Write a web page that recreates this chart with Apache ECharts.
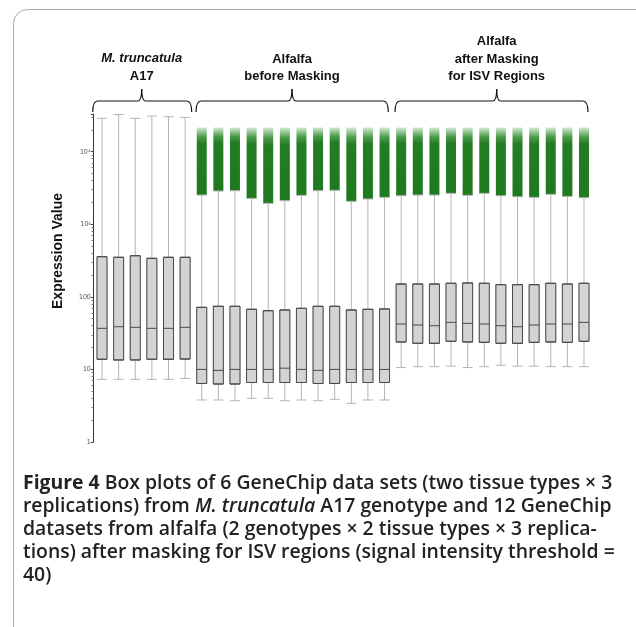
<!DOCTYPE html>
<html>
<head>
<meta charset="utf-8">
<script src="https://cdn.jsdelivr.net/npm/echarts@6/dist/echarts.min.js"></script>
<style>
html,body{margin:0;padding:0;background:#fff;}
#chart{width:636px;height:627px;}
</style>
</head>
<body>
<div id="chart"></div>
<script>
// ---- Data ----
const categories = [
  'A17-1','A17-2','A17-3','A17-4','A17-5','A17-6',
  'Before-1','Before-2','Before-3','Before-4','Before-5','Before-6','Before-7','Before-8','Before-9','Before-10','Before-11','Before-12',
  'After-1','After-2','After-3','After-4','After-5','After-6','After-7','After-8','After-9','After-10','After-11','After-12'
];
const whiskerLow = [
  7.3,7.3,7.3,7.3,7.3,7.5,
  3.79,3.79,3.7,4.0,4.0,3.7,3.79,3.7,3.87,3.41,3.79,3.79,
  10.6,10.9,10.9,11.1,10.6,10.9,11.4,11.1,11.1,10.9,10.9,10.9
];
const quartile1 = [
  13.8,13.5,13.5,13.8,13.8,13.9,
  6.4,6.3,6.3,6.6,6.6,6.6,6.6,6.4,6.4,6.6,6.6,6.6,
  23.9,22.9,22.9,24.4,23.9,23.6,22.9,22.9,23.6,23.9,23.6,24.4
];
const medians = [
  36.8,38.7,38,36.8,36.8,38,
  10,9.7,10,10,10,10.4,10,9.7,10,10,10,10,
  42.2,40.9,40,44.5,43.1,42.2,40,38.7,40.9,42.2,42.2,44.5
];
const quartile3 = [
  357,350,368,339,350,350,
  71.6,74,74,67.3,64.4,65.8,69.4,74,74,65.8,67.3,68,
  150,150,150,153.5,155,153.5,147,147,147,153.5,150,153.5
];
const whiskerHigh = [
  28770,32500,28770,30900,30270,29650,
  2524,2866,2896,2271,1940,2109,2500,2896,2930,2066,2224,2346,
  2470,2524,2524,2663,2500,2663,2470,2392,2346,2583,2420,2317
];
// highest outlier per box (null = no outliers drawn)
const outlierTop = [
  null,null,null,null,null,null,
  21500,21500,21500,21500,21500,21500,21500,21500,21500,21500,21500,21500,
  21500,21500,21500,21500,21500,21500,21500,21500,21500,21500,21500,21500
];
const yTickLabels = {1:'1', 10:'10', 100:'100', 1000:'10³', 10000:'10⁴'};
const groupLabels = [
  ['{i|M. truncatula}', 'A17'],
  ['Alfalfa', 'before Masking'],
  ['Alfalfa', 'after Masking', 'for ISV Regions']
];
const yAxisTitle = 'Expression Value';

// ---- Build series data ----
const whiskerData = categories.map((c,i)=>[whiskerLow[i],quartile1[i],medians[i],quartile3[i],whiskerHigh[i]]);
const boxData = categories.map((c,i)=>[quartile1[i],quartile1[i],medians[i],quartile3[i],quartile3[i]]);
const outlierData = categories.map((c,i)=> outlierTop[i]==null ? null : [i, whiskerHigh[i], outlierTop[i]]).filter(d=>d);

const chart = echarts.init(document.getElementById('chart'), null, {renderer:'canvas'});

const font = '"Liberation Sans", Arial, sans-serif';
const capFont = '"Open Sans", sans-serif';

function brace(x1, x2, tip, y){
  const st = {fill:'none', stroke:'#111', lineWidth:1.2};
  return {type:'group', children:[
    {type:'bezierCurve', shape:{x1:x1, y1:y+11, x2:x1+5, y2:y, cpx1:x1, cpy1:y}, style:st},
    {type:'line', shape:{x1:x1+5, y1:y, x2:tip-4, y2:y}, style:st},
    {type:'bezierCurve', shape:{x1:tip-4, y1:y, x2:tip, y2:y-12, cpx1:tip, cpy1:y}, style:st},
    {type:'bezierCurve', shape:{x1:tip, y1:y-12, x2:tip+4, y2:y, cpx1:tip, cpy1:y}, style:st},
    {type:'line', shape:{x1:tip+4, y1:y, x2:x2-5, y2:y}, style:st},
    {type:'bezierCurve', shape:{x1:x2-5, y1:y, x2:x2, y2:y+11, cpx1:x2, cpy1:y}, style:st}
  ]};
}

const hiddenCat = {
  type:'category', data:categories, boundaryGap:true,
  axisLine:{show:false}, axisTick:{show:false}, axisLabel:{show:false}, splitLine:{show:false}
};

const option = {
  animation:false,
  backgroundColor:'#fff',
  grid:{left:93.7, right:43.7, top:114, bottom:185, containLabel:false},
  xAxis:[Object.assign({}, hiddenCat), Object.assign({}, hiddenCat)],
  yAxis:{
    type:'log', logBase:10, min:1, max:33000,
    axisLine:{show:true, lineStyle:{color:'#333', width:1}},
    axisTick:{show:true, length:3, lineStyle:{color:'#444'}},
    minorTick:{show:true, splitNumber:9, length:2, lineStyle:{color:'#666'}},
    splitLine:{show:false},
    axisLabel:{
      show:true, fontSize:7, color:'#555', fontFamily:font, margin:3,
      showMaxLabel:false,
      formatter:(v)=> yTickLabels[Math.round(v)] || ''
    }
  },
  title:{
    left:18, top:467,
    text:'{b|Figure 4} Box plots of 6 GeneChip data sets (two tissue types × 3\n'+
         'replications) from {i|M. truncatula} A17 genotype and 12 GeneChip\n'+
         'datasets from alfalfa (2 genotypes × 2 tissue types × 3 replica-\n'+
         'tions) after masking for ISV regions (signal intensity threshold =\n'+
         '40)',
    textStyle:{
      fontFamily:capFont, fontSize:19.4, fontWeight:600, color:'#222', lineHeight:23,
      rich:{
        b:{fontFamily:capFont, fontSize:19.4, fontWeight:'bold', color:'#222', lineHeight:23},
        i:{fontFamily:capFont, fontSize:19.4, fontWeight:600, fontStyle:'italic', color:'#222', lineHeight:23}
      }
    }
  },
  graphic:[
    {type:'rect', silent:true, z:-1, shape:{x:13.5, y:9.5, width:660, height:700, r:14},
     style:{fill:'none', stroke:'#aaa', lineWidth:1}},
    brace(92.7,191.7,141.7,101),
    brace(196,388.3,292,101),
    brace(395,588,496.7,101),
    {type:'text', x:141.7, y:58, style:{text:groupLabels[0][0], font:'bold 13px '+font, fill:'#111', align:'center', verticalAlign:'middle',
      rich:{i:{fontStyle:'italic', fontWeight:'bold', fontSize:13, fontFamily:font, fill:'#111'}}}},
    {type:'text', x:141.7, y:76, style:{text:groupLabels[0][1], font:'bold 13px '+font, fill:'#111', align:'center', verticalAlign:'middle'}},
    {type:'text', x:292, y:59, style:{text:groupLabels[1][0], font:'bold 13px '+font, fill:'#111', align:'center', verticalAlign:'middle'}},
    {type:'text', x:292, y:76, style:{text:groupLabels[1][1], font:'bold 13px '+font, fill:'#111', align:'center', verticalAlign:'middle'}},
    {type:'text', x:496.7, y:41, style:{text:groupLabels[2][0], font:'bold 13px '+font, fill:'#111', align:'center', verticalAlign:'middle'}},
    {type:'text', x:496.7, y:59, style:{text:groupLabels[2][1], font:'bold 13px '+font, fill:'#111', align:'center', verticalAlign:'middle'}},
    {type:'text', x:496.7, y:76, style:{text:groupLabels[2][2], font:'bold 13px '+font, fill:'#111', align:'center', verticalAlign:'middle'}},
    {type:'text', x:58, y:251, rotation:Math.PI/2, style:{text:yAxisTitle, font:'bold 14px '+font, fill:'#111', align:'center', verticalAlign:'middle'}}
  ],
  series:[
    {
      type:'custom', name:'outliers', z:1, xAxisIndex:0,
      data:outlierData,
      encode:{x:0, y:[1,2]},
      renderItem:(params, api)=>{
        const idx = api.value(0);
        const lo = api.coord([idx, api.value(1)]);
        const hi = api.coord([idx, api.value(2)]);
        const w = 10;
        return {
          type:'rect',
          shape:{x:lo[0]-w/2, y:hi[1], width:w, height:lo[1]-hi[1]},
          style:{
            fill:{type:'linear', x:0, y:0, x2:0, y2:1, colorStops:[
              {offset:0, color:'#d6e9d6'},
              {offset:0.06, color:'#98c998'},
              {offset:0.14, color:'#4a9a4a'},
              {offset:0.24, color:'#237d23'},
              {offset:1, color:'#1f7a1f'}
            ]}
          }
        };
      }
    },
    {
      type:'boxplot', name:'whiskers', z:2, xAxisIndex:0,
      data:whiskerData, boxWidth:[10,10],
      itemStyle:{color:'#d3d3d3', borderColor:'#b4b4b4', borderWidth:1}
    },
    {
      type:'boxplot', name:'boxes', z:3, xAxisIndex:1,
      data:boxData, boxWidth:[10,10],
      itemStyle:{color:'#d3d3d3', borderColor:'#4a4a4a', borderWidth:1}
    }
  ]
};
chart.setOption(option);
</script>
</body>
</html>
